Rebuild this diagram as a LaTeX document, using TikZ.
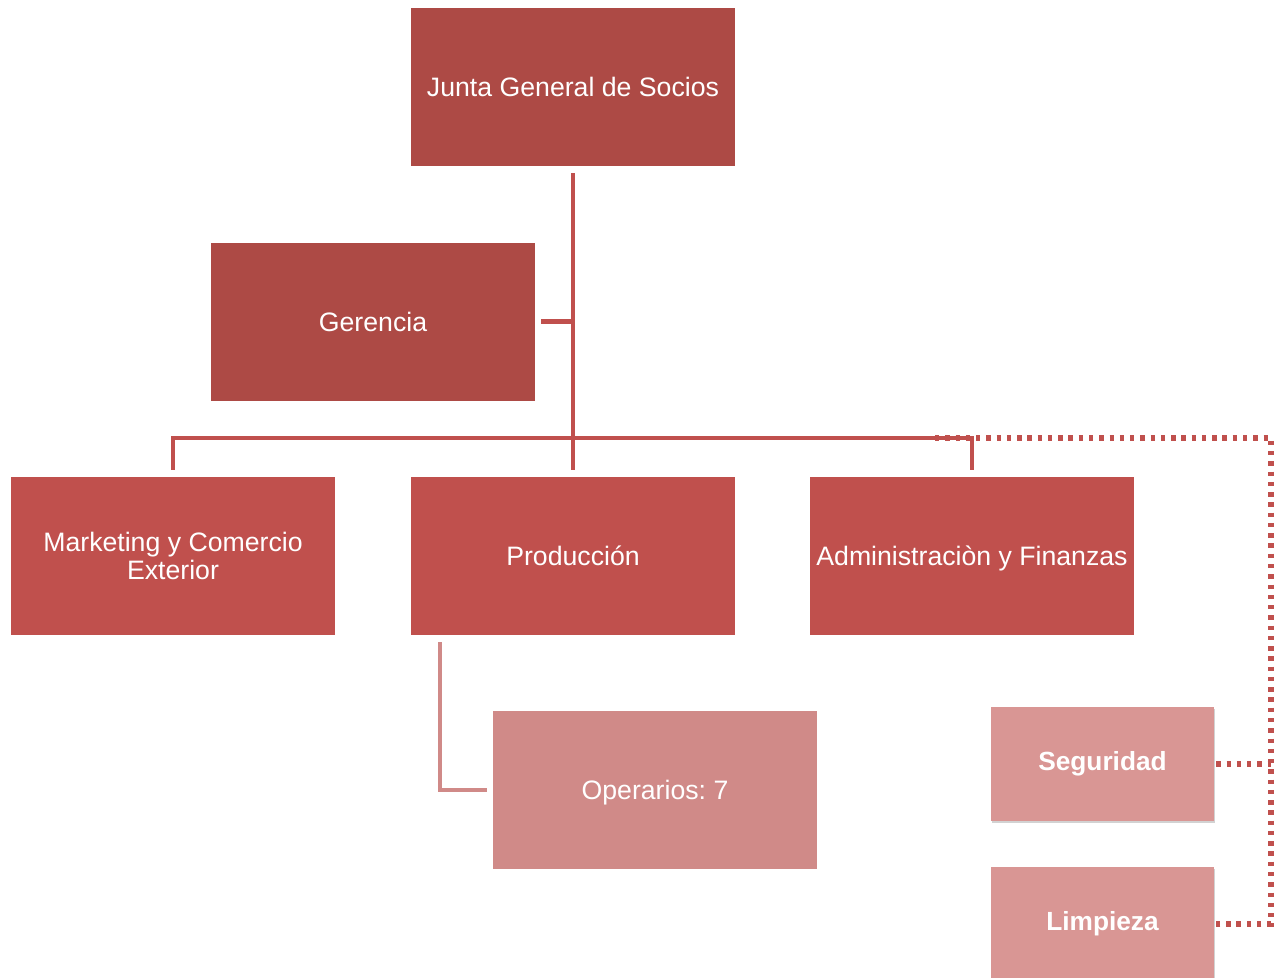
\documentclass[tikz,border=0pt]{standalone}
\usepackage{fontspec}
\setmainfont{Liberation Sans}
\frenchspacing
\usetikzlibrary{shadows,calc}
\definecolor{darkred}{HTML}{AD4A45}
\definecolor{midred}{HTML}{C0504D}
\definecolor{lightred}{HTML}{D08A88}
\definecolor{palered}{HTML}{D99694}
\tikzset{
  box/.style={rectangle, inner sep=2pt, minimum width=243pt, minimum height=118.5pt, text=white, align=center,
    font=\fontsize{20}{20.5}\selectfont},
  oneline/.style={text height=18.3pt, text depth=4pt},
  topbox/.style={box, oneline, fill=darkred},
  midbox/.style={box, fill=midred},
  opbox/.style={box, oneline, fill=lightred},
  sidebox/.style={box, oneline, text depth=8.5pt, fill=palered, minimum width=167.25pt, minimum height=85.5pt,
    font=\fontsize{19.7}{20.5}\selectfont\bfseries,
    drop shadow={opacity=0.35, shadow xshift=1pt, shadow yshift=-1.8pt}},
  conn/.style={draw=midred, line width=3.6pt},
  opconn/.style={draw=lightred, line width=3pt},
  dotconn/.style={draw=midred, line width=3.8pt, dash pattern=on 3.3pt off 4.4pt}
}
\begin{document}
\begin{tikzpicture}[x=0.75pt,y=-0.75pt]
\clip (0,0) rectangle (1283,978);
\fill[white] (0,0) rectangle (1283,978);
% nodes
\node[topbox] (junta) at (573,87) {Junta General de Socios};
\node[topbox] (ger) at (373,321.5) {Gerencia};
\node[midbox] (mkt) at (173,556) {Marketing y Comercio\\Exterior};
\node[midbox, oneline] (prod) at (573,556) {Producción};
\node[midbox, oneline] (adm) at (972,556) {Administraciòn y Finanzas};
\node[opbox] (oper) at (655,790) {Operarios: 7};
\node[sidebox] (seg) at (1102.5,764) {Seguridad};
\node[sidebox] (lim) at (1102.5,924) {Limpieza};
\coordinate (bus) at (573,438);
\coordinate (dstart) at (935,438);
\coordinate (dcorner) at (1271,438);
% dotted connectors
\draw[dotconn] (dstart) -- (dcorner) |- ([xshift=1.5pt]lim.east);
\draw[dotconn] ([xshift=1.5pt]seg.east) -- (seg.east -| dcorner);
% solid connectors
\draw[conn] ([yshift=-5.25pt]junta.south) -- ([yshift=5.25pt]prod.north);
\draw[conn] ([xshift=4.5pt]ger.east) -- (ger.east -| junta.south);
\draw[conn] ([yshift=5.25pt]mkt.north) |- (bus) -| ([yshift=5.25pt]adm.north);
\draw[opconn] ([shift={(21.75pt,-5.25pt)}]prod.south west) |- ([xshift=-4.5pt]oper.west);
\end{tikzpicture}
\end{document}
